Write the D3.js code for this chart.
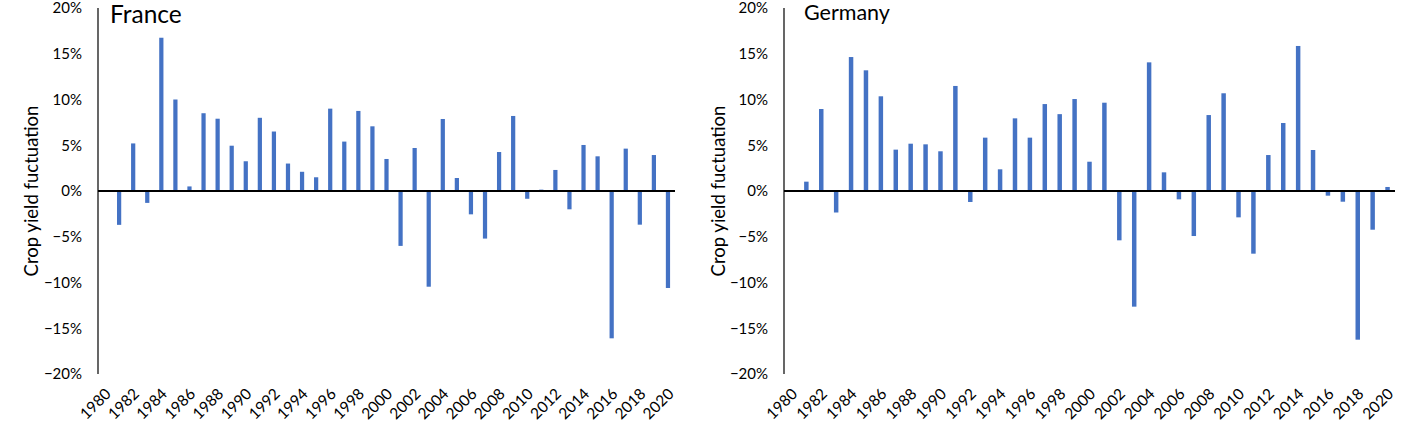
<!DOCTYPE html>
<html>
<head>
<meta charset="utf-8">
<script src="https://cdn.jsdelivr.net/npm/d3@7"></script>
<style>
  html, body { margin: 0; padding: 0; background: #fff; }
  svg { display: block; font-family: Lato, "Open Sans", sans-serif; }
</style>
</head>
<body>
<svg id="chart" width="1419" height="435"></svg>
<script>
// ---- data ----
const years = d3.range(1980, 2021).map(String);
const yTicks = [-0.20, -0.15, -0.10, -0.05, 0, 0.05, 0.10, 0.15, 0.20];
const xTickLabels = d3.range(1980, 2021, 2).map(String);

// France (1980 … 2020), fraction
const franceValues = [
  null, -0.037, 0.052, -0.013, 0.1675, 0.100, 0.005, 0.085, 0.079, 0.0495,
  0.0325, 0.080, 0.065, 0.030, 0.021, 0.015, 0.090, 0.054, 0.0875, 0.0707,
  0.035, -0.060, 0.047, -0.1046, 0.0787, 0.0142, -0.0255, -0.052, 0.0426, 0.082,
  -0.0085, 0.0015, 0.023, -0.020, 0.0503, 0.0379, -0.161, 0.0463, -0.0368, 0.0393,
  -0.106
];
// Germany (1980 … 2020), fraction
const germanyValues = [
  null, 0.0102, 0.0896, -0.0235, 0.1464, 0.1319, 0.1035, 0.0452, 0.0517, 0.051,
  0.0434, 0.1148, -0.012, 0.0583, 0.0237, 0.0794, 0.0583, 0.095, 0.084, 0.1005,
  0.032, 0.0965, -0.0539, -0.1264, 0.1406, 0.0204, -0.0091, -0.0492, 0.083, 0.1068,
  -0.0288, -0.0685, 0.0393, 0.0743, 0.1585, 0.0448, -0.0051, -0.0117, -0.1625, -0.0423,
  0.0044
];

const panels = [
  { title: "France",  values: franceValues,  x0: 98,  x1: 675,  titleX: 110, titleY: 23, titleSize: 24.5, tickRight: 82,  yTitleX: 32 },
  { title: "Germany", values: germanyValues, x0: 784, x1: 1395, titleX: 804, titleY: 20, titleSize: 21.5, tickRight: 768, yTitleX: 719 }
];

const svg = d3.select("#chart");
const yTop = 8, yBottom = 374;
const barColor = "#4472C4";

panels.forEach(p => {
  const g = svg.append("g");
  const x = d3.scaleBand().domain(years).range([p.x0, p.x1]).paddingInner(0.7).paddingOuter(0.35);
  const xc = d3.scaleBand().domain(years).range([p.x0, p.x1]);
  const y = d3.scaleLinear().domain([-0.20, 0.20]).range([yBottom, yTop]);

  // bars
  g.selectAll("rect.bar")
    .data(years.map((yr, i) => ({ yr, v: p.values[i] })).filter(d => d.v !== null))
    .join("rect")
    .attr("class", "bar")
    .attr("x", d => xc(d.yr) + xc.bandwidth() / 2 - x.bandwidth() / 2)
    .attr("width", x.bandwidth())
    .attr("y", d => y(Math.max(0, d.v)))
    .attr("height", d => Math.abs(y(d.v) - y(0)))
    .attr("fill", barColor);

  // y axis line
  g.append("line")
    .attr("x1", p.x0).attr("x2", p.x0)
    .attr("y1", y(0.20)).attr("y2", y(-0.20))
    .attr("stroke", "#000").attr("stroke-width", 1.2);

  // zero line (category axis)
  g.append("line")
    .attr("x1", p.x0).attr("x2", p.x1)
    .attr("y1", y(0)).attr("y2", y(0))
    .attr("stroke", "#000").attr("stroke-width", 1.8);

  // y tick labels
  g.selectAll("text.ytick")
    .data(yTicks)
    .join("text")
    .attr("class", "ytick")
    .attr("x", p.tickRight)
    .attr("y", d => y(d))
    .attr("dy", "0.35em")
    .attr("text-anchor", "end")
    .attr("font-size", 15)
    .attr("fill", "#000")
    .text(d => d3.format(".0%")(d));

  // x tick labels (rotated, at bottom)
  g.selectAll("text.xtick")
    .data(xTickLabels)
    .join("text")
    .attr("class", "xtick")
    .attr("transform", d => `translate(${xc(d) + xc.bandwidth() / 2 + 3},${yBottom + 17}) rotate(-45)`)
    .attr("text-anchor", "end")
    .attr("dy", "0.35em")
    .attr("font-size", 15.5)
    .attr("fill", "#000")
    .text(d => d);

  // y axis title
  g.append("text")
    .attr("transform", `translate(${p.yTitleX},${(yTop + yBottom) / 2}) rotate(-90)`)
    .attr("text-anchor", "middle")
    .attr("dy", "0.35em")
    .attr("font-size", 18.5)
    .attr("fill", "#000")
    .text("Crop yield fuctuation");

  // panel title
  g.append("text")
    .attr("x", p.titleX)
    .attr("y", p.titleY)
    .attr("font-size", p.titleSize)
    .attr("fill", "#000")
    .text(p.title);
});
</script>
</body>
</html>
